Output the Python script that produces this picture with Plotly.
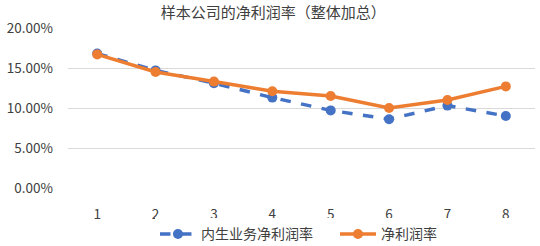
import plotly.graph_objects as go

categories = [1, 2, 3, 4, 5, 6, 7, 8]
organic_margin = [0.168, 0.147, 0.131, 0.113, 0.097, 0.086, 0.103, 0.090]
net_margin = [0.167, 0.145, 0.133, 0.121, 0.115, 0.100, 0.110, 0.127]
title_text = "样本公司的净利润率（整体加总）"
names = ["内生业务净利润率", "净利润率"]

font_family = "Noto Sans CJK SC, Noto Sans, sans-serif"

fig = go.Figure()
fig.add_trace(go.Scatter(
    x=categories, y=organic_margin, name=names[0], mode="lines+markers",
    line=dict(color="#4472C4", width=3.5, dash="dash"),
    marker=dict(size=10, color="#4472C4"),
))
fig.add_trace(go.Scatter(
    x=categories, y=net_margin, name=names[1], mode="lines+markers",
    line=dict(color="#ED7D31", width=3.5),
    marker=dict(size=10, color="#ED7D31"),
))

fig.update_layout(
    width=540, height=246,
    margin=dict(l=68, r=5, t=28, b=58, autoexpand=False),
    paper_bgcolor="white", plot_bgcolor="white",
    font=dict(family=font_family, size=13, color="#404040"),
    title=dict(text=title_text, x=0.506, xanchor="center", y=0.947, yanchor="middle",
               font=dict(size=15, color="#404040")),
    xaxis=dict(range=[0.5, 8.5], tickvals=categories, showgrid=False, zeroline=False,
               showline=False, ticks="", automargin=False, ticklabelstandoff=16,
               tickfont=dict(size=13.5, color="#404040")),
    yaxis=dict(range=[0, 0.2], dtick=0.05, tickformat=".2%", showgrid=True,
               gridcolor="#D9D9D9", gridwidth=1, zeroline=False, showline=False,
               ticks="", automargin=False, ticklabelstandoff=14,
               tickfont=dict(size=13.5, color="#404040")),
    legend=dict(orientation="h", xref="container", x=0.287, xanchor="left",
                y=-0.29, yanchor="middle", entrywidth=129,
                font=dict(size=14, color="#404040"), itemwidth=36),
    showlegend=True,
)

fig.write_html("out.html", config={"displayModeBar": False},
               post_script="document.body.style.margin='0';document.body.style.overflow='hidden';")
